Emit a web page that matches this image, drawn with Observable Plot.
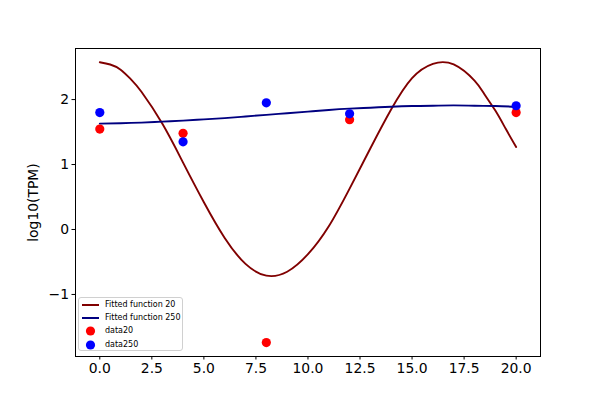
<!DOCTYPE html>
<html>
<head>
<meta charset="utf-8">
<script src="https://cdn.jsdelivr.net/npm/d3@7"></script>
<script src="https://cdn.jsdelivr.net/npm/@observablehq/plot@0.6"></script>
<style>
  body { margin: 0; background: white; }
  #wrap { position: relative; width: 600px; height: 400px; font-family: "DejaVu Sans", sans-serif; }
  #legend {
    position: absolute; left: 78px; top: 297px; width: 105px; height: 54px;
    border: 1px solid #d0d0d0; border-radius: 3px; background: rgba(255,255,255,0.8);
    box-sizing: border-box; font-size: 8px; color: black;
  }
  .handle { position: absolute; left: 3px; width: 17px; height: 12px; }
  .lbl { position: absolute; left: 26px; white-space: nowrap; line-height: 12px; }
</style>
</head>
<body>
<div id="wrap"></div>
<script>
// Sample timepoints and measured log10(TPM)
const sampleX = [0, 4, 8, 12, 20];
const data20 = [1.545, 1.48, -1.74, 1.69, 1.80];
const data250 = [1.80, 1.35, 1.95, 1.78, 1.905];

// Fitted curves
const fitX20 = [0, 0.5, 1, 1.5, 2, 3, 4, 5, 6, 7, 8, 9, 10, 11, 12, 13, 14, 15, 16, 17, 18, 18.5, 19, 19.5, 20];
const fit20 = [2.575, 2.54, 2.46, 2.31, 2.12, 1.63, 1.03, 0.42, -0.13, -0.53, -0.71, -0.65, -0.38, 0.05, 0.63, 1.25, 1.85, 2.33, 2.55, 2.54, 2.29, 2.07, 1.83, 1.55, 1.27];
const fitX250 = [0, 1, 2, 3, 4, 5, 6, 7, 8, 9, 10, 11, 12, 13, 14, 15, 16, 17, 18, 19, 20];
const fit250 = [1.63, 1.635, 1.645, 1.66, 1.675, 1.695, 1.715, 1.74, 1.765, 1.79, 1.815, 1.84, 1.86, 1.875, 1.89, 1.90, 1.905, 1.91, 1.905, 1.90, 1.89];

const xTicks = [0, 2.5, 5, 7.5, 10, 12.5, 15, 17.5, 20];
const yTicks = [-1, 0, 1, 2];
const yLabel = "log10(TPM)";
const legendItems = [
  {label: "Fitted function 20", kind: "line", color: "#800000"},
  {label: "Fitted function 250", kind: "line", color: "#000080"},
  {label: "data20", kind: "dot", color: "red"},
  {label: "data250", kind: "dot", color: "blue"}
];

const line20 = fitX20.map((x, i) => ({x, y: fit20[i]}));
const line250 = fitX250.map((x, i) => ({x, y: fit250[i]}));
const pts20 = sampleX.map((x, i) => ({x, y: data20[i]}));
const pts250 = sampleX.map((x, i) => ({x, y: data250[i]}));

const chart = Plot.plot({
  width: 600,
  height: 400,
  marginLeft: 75,
  marginRight: 60,
  marginTop: 48,
  marginBottom: 44,
  x: {domain: [-1.167, 21.17]},
  y: {domain: [-1.955, 2.786]},
  style: {fontFamily: "DejaVu Sans", fontSize: "13.9px", color: "black", background: "white"},
  marks: [
    Plot.axisX({ticks: xTicks, tickFormat: d3.format(".1f"), tickSize: 3.5, tickPadding: 3, label: null, fontSize: 13.9}),
    Plot.axisY({ticks: yTicks, tickFormat: d => d < 0 ? "\u2212" + Math.abs(d) : String(d), tickSize: 3.5, tickPadding: 3, label: null, fontSize: 13.9}),
    Plot.text([yLabel], {frameAnchor: "left", rotate: -90, dx: -42, text: d => d, fontSize: 13.9, textAnchor: "middle", lineAnchor: "middle"}),
    Plot.line(line20, {x: "x", y: "y", stroke: "#800000", strokeWidth: 1.9, curve: "natural"}),
    Plot.line(line250, {x: "x", y: "y", stroke: "#000080", strokeWidth: 1.9, curve: "natural"}),
    Plot.dot(pts20, {x: "x", y: "y", r: 4.6, fill: "red", stroke: "none"}),
    Plot.dot(pts250, {x: "x", y: "y", r: 4.6, fill: "blue", stroke: "none"}),
    Plot.frame({stroke: "black", strokeWidth: 1})
  ]
});

const wrap = document.getElementById("wrap");
wrap.appendChild(chart);

const legend = document.createElement("div");
legend.id = "legend";
legendItems.forEach((it, i) => {
  const top = 1 + i * 13.2;
  const handle = it.kind === "line"
    ? `<svg class="handle" style="top:${top}px" width="17" height="12"><line x1="0" x2="17" y1="6" y2="6" stroke="${it.color}" stroke-width="2"/></svg>`
    : `<svg class="handle" style="top:${top}px" width="17" height="12"><circle cx="8.5" cy="6" r="4.6" fill="${it.color}"/></svg>`;
  legend.insertAdjacentHTML("beforeend", handle + `<div class="lbl" style="top:${top}px">${it.label}</div>`);
});
wrap.appendChild(legend);
</script>
</body>
</html>
